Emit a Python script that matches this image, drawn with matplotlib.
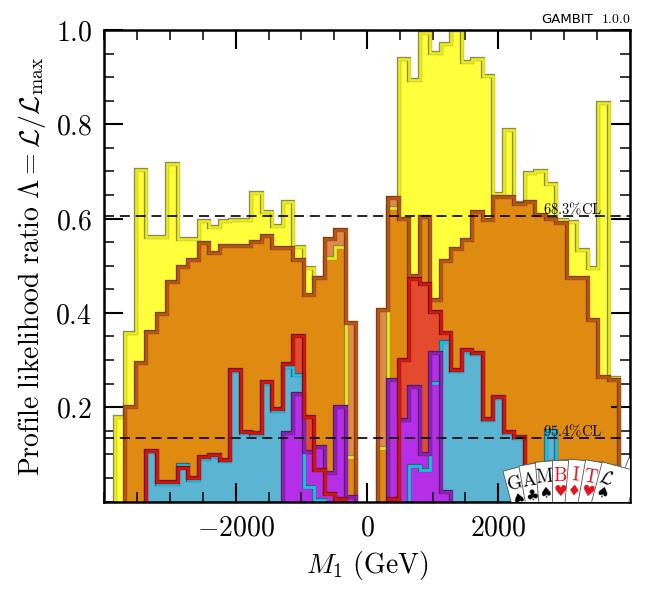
import numpy as np
import matplotlib
matplotlib.use('Agg')
import matplotlib.pyplot as plt
import matplotlib.patheffects as pe
from matplotlib.patches import Polygon
from matplotlib.ticker import MultipleLocator, FixedLocator, FuncFormatter

plt.rcParams['mathtext.fontset'] = 'cm'
plt.rcParams['font.family'] = 'DejaVu Serif'

# ---------------- data (50 bins of 160 GeV from -4000 to 4000) ----------------
bin_edges = np.linspace(-4000, 4000, 51)

yellow = [0, 0.180, 0.358, 0.703, 0.560, 0.560, 0.715, 0.556, 0.557, 0.595,
          0.583, 0.595, 0.597, 0.597, 0.655, 0.615, 0.584, 0.635, 0.540, 0.495,
          0.475, 0.516, 0.539, 0.095, 0, 0, 0.113, 0.622, 0.938, 0.894,
          0.994, 0.951, 0.970, 1.0, 0.933, 0.938, 0.902, 0.652, 0.788, 0.634,
          0.696, 0.700, 0.673, 0.597, 0.593, 0.533, 0.495, 0.846, 0.261, 0]

orange = [0, 0, 0.201, 0.294, 0.359, 0.398, 0.466, 0.498, 0.512, 0.548,
          0.528, 0.542, 0.541, 0.542, 0.551, 0.564, 0.538, 0.538, 0.512, 0.438,
          0.473, 0.556, 0.576, 0.379, 0, 0, 0.406, 0.643, 0.600, 0.478,
          0.603, 0.427, 0.510, 0.535, 0.555, 0.613, 0.597, 0.646, 0.646, 0.632,
          0.636, 0.608, 0.600, 0.590, 0.473, 0.473, 0.385, 0.265, 0.258, 0]

red = [0, 0, 0, 0, 0.108, 0.041, 0.041, 0.072, 0.049, 0.094,
       0.098, 0.088, 0.279, 0.148, 0.145, 0.253, 0.196, 0.292, 0.352, 0.180,
       0.067, 0.015, 0.006, 0, 0, 0, 0, 0.006, 0.301, 0.472,
       0.461, 0.401, 0.357, 0.279, 0.321, 0.315, 0.176, 0.222, 0.148, 0.137,
       0, 0, 0, 0, 0, 0, 0, 0, 0, 0]

cyan = [0, 0, 0, 0, 0.105, 0.038, 0.038, 0.078, 0.046, 0.091,
        0.095, 0.085, 0.276, 0.145, 0.142, 0.250, 0.193, 0.286, 0.268, 0.031,
        0.004, 0, 0, 0, 0, 0, 0, 0, 0, 0.076,
        0.067, 0.251, 0.339, 0.276, 0.317, 0.312, 0.173, 0.219, 0.145, 0.134,
        0, 0, 0.150, 0, 0, 0, 0, 0, 0, 0]

purple = [0, 0, 0, 0, 0, 0, 0, 0, 0, 0,
          0, 0, 0, 0, 0, 0, 0, 0.145, 0.229, 0.106,
          0.116, 0.060, 0.201, 0.010, 0, 0, 0, 0.258, 0.172, 0.243,
          0.100, 0.314, 0.020, 0, 0, 0, 0, 0, 0, 0,
          0, 0, 0, 0, 0, 0, 0, 0, 0, 0]

cl_levels = [0.6065, 0.1353]
cl_labels = [r'$68.3\%\mathrm{CL}$', r'$95.4\%\mathrm{CL}$']

x_major = [-2000, 0, 2000]
y_major = [0.2, 0.4, 0.6, 0.8, 1.0]

card_letters = [r'$\mathrm{G}$', r'$\mathrm{A}$', r'$\mathrm{M}$', r'$\mathrm{B}$',
                r'$\mathrm{I}$', r'$\mathrm{T}$', r'$\mathcal{L}$']
card_suits = ['\u2660', '\u2663', '\u2660', '\u2665', '\u2666', '\u2665', '\u2660']
card_red = [False, False, False, True, True, True, False]

# ---------------- figure ----------------
W, H = 650, 600
fig = plt.figure(figsize=(6.5, 6), dpi=100)
ax = fig.add_axes([104.4 / W, 1 - 501.5 / H, (629.6 - 104.4) / W, (501.5 - 30) / H])

# (values, fill colour, fill alpha, outline colour, outline border colour)
layers = {
    'yellow': (yellow, '#FFFF3C', 1.0, '#EDED10', '#8a8a60'),
    'orange': (orange, '#D45F01', 0.73, '#B8561A', '#80400c'),
    'red': (red, '#E34A2E', 1.0, '#D41515', '#7a1010'),
    'cyan': (cyan, '#5BB5D2', 1.0, '#1EC0E2', '#2a6a80'),
    'purple': (purple, '#B52EE8', 1.0, '#8E22B6', '#5a1a70'),
}
fill_order = ['yellow', 'orange', 'red', 'cyan', 'purple']
line_order = ['yellow', 'orange', 'cyan', 'purple', 'red']

for i, name in enumerate(fill_order):
    vals, fc, a, ec, bc = layers[name]
    ax.stairs(vals, bin_edges, fill=True, color=fc, alpha=a, lw=0, zorder=1 + 0.1 * i)


def segments(vals):
    vals = np.asarray(vals, float)
    segs = []
    i = 0
    n = len(vals)
    while i < n:
        if vals[i] > 0:
            j = i
            while j < n and vals[j] > 0:
                j += 1
            segs.append((i, j))
            i = j
        else:
            i += 1
    return segs


for i, name in enumerate(line_order):
    vals, fc, a, ec, bc = layers[name]
    v = np.asarray(vals, float)
    for (s, e) in segments(v):
        ax.stairs(v[s:e], bin_edges[s:e + 1], fill=False, color=ec, lw=1.9,
                  zorder=2 + 0.1 * i,
                  path_effects=[pe.withStroke(linewidth=3.1, foreground=bc)])

for lev, lab in zip(cl_levels, cl_labels):
    ax.axhline(lev, color='black', lw=1.2, ls=(0, (6, 3.5)), zorder=3)
    ax.text(3580, lev - 0.003, lab, ha='right', va='bottom', fontsize=10.5, zorder=3)

ax.set_xlim(-4000, 4000)
ax.set_ylim(0, 1)
ax.xaxis.set_major_locator(FixedLocator(x_major))
ax.xaxis.set_minor_locator(MultipleLocator(500))
ax.yaxis.set_major_locator(FixedLocator(y_major))
ax.yaxis.set_minor_locator(MultipleLocator(0.05))
ax.xaxis.set_major_formatter(FuncFormatter(lambda v, p: r'$%d$' % v))
ax.yaxis.set_major_formatter(FuncFormatter(lambda v, p: r'$%.1f$' % v))
ax.tick_params(which='both', direction='in', top=True, right=True)
ax.tick_params(which='major', length=14, width=1.5, labelsize=20, pad=9)
ax.tick_params(which='minor', length=7, width=1.1)
for sp in ax.spines.values():
    sp.set_linewidth(1.8)
    sp.set_zorder(6)

ax.set_xlabel(r'$M_1\ \mathrm{(GeV)}$', fontsize=20, labelpad=6)
ax.set_ylabel(r'$\mathrm{Profile\ likelihood\ ratio}\ \Lambda = \mathcal{L}/\mathcal{L}_\mathrm{max}$',
              fontsize=20, labelpad=5)

# GAMBIT tag
fig.text(593 / W, 1 - 23 / H, 'GAMBIT', fontsize=9.5, ha='right', va='baseline',
         family='DejaVu Sans')
fig.text(631 / W, 1 - 23 / H, r'$1.0.0$', fontsize=10, ha='right', va='baseline')

# GAMBIT card logo (drawn in figure pixel space, clipped to axes)
piv = np.array([570.0, H - 652.0])
R_top, R_bot, w = 192.0, 110.0, 18.0


def to_fig(p):
    return (p[0] / W, p[1] / H)


def card(theta, letter=None, suit=None, isred=False, z=7, rtop=R_top):
    t = np.radians(theta)
    u = np.array([-np.sin(t), np.cos(t)])
    v = np.array([np.cos(t), np.sin(t)])
    pts = [piv + u * rtop - v * w, piv + u * rtop + v * w,
           piv + u * R_bot + v * w, piv + u * R_bot - v * w]
    poly = Polygon([to_fig(p) for p in pts], closed=True, transform=fig.transFigure,
                   facecolor='white', edgecolor='#555555', lw=0.6, zorder=z)
    ax.add_patch(poly)
    col = '#E0141C' if isred else 'black'
    if letter is not None:
        p = piv + u * (rtop - 16) - v * (w - 8)
        ax.text(*to_fig(p), letter, transform=fig.transFigure, fontsize=13.5,
                rotation=theta, ha='center', va='center', color=col, zorder=z + 0.05)
    if suit is not None:
        p = piv + u * (rtop - 31) - v * (w - 8)
        ax.text(*to_fig(p), suit, transform=fig.transFigure, fontsize=11,
                rotation=theta, ha='center', va='center', color=col, zorder=z + 0.05,
                family='DejaVu Sans')


card(-28, z=6.5, rtop=R_top + 14)
card(-22, z=6.6, rtop=R_top + 10)
angles = np.linspace(15, -15, 7)
for k, th in enumerate(angles):
    card(th, card_letters[k], card_suits[k], card_red[k], z=7 + 0.1 * k)

fig.savefig('out.png', dpi=100)
